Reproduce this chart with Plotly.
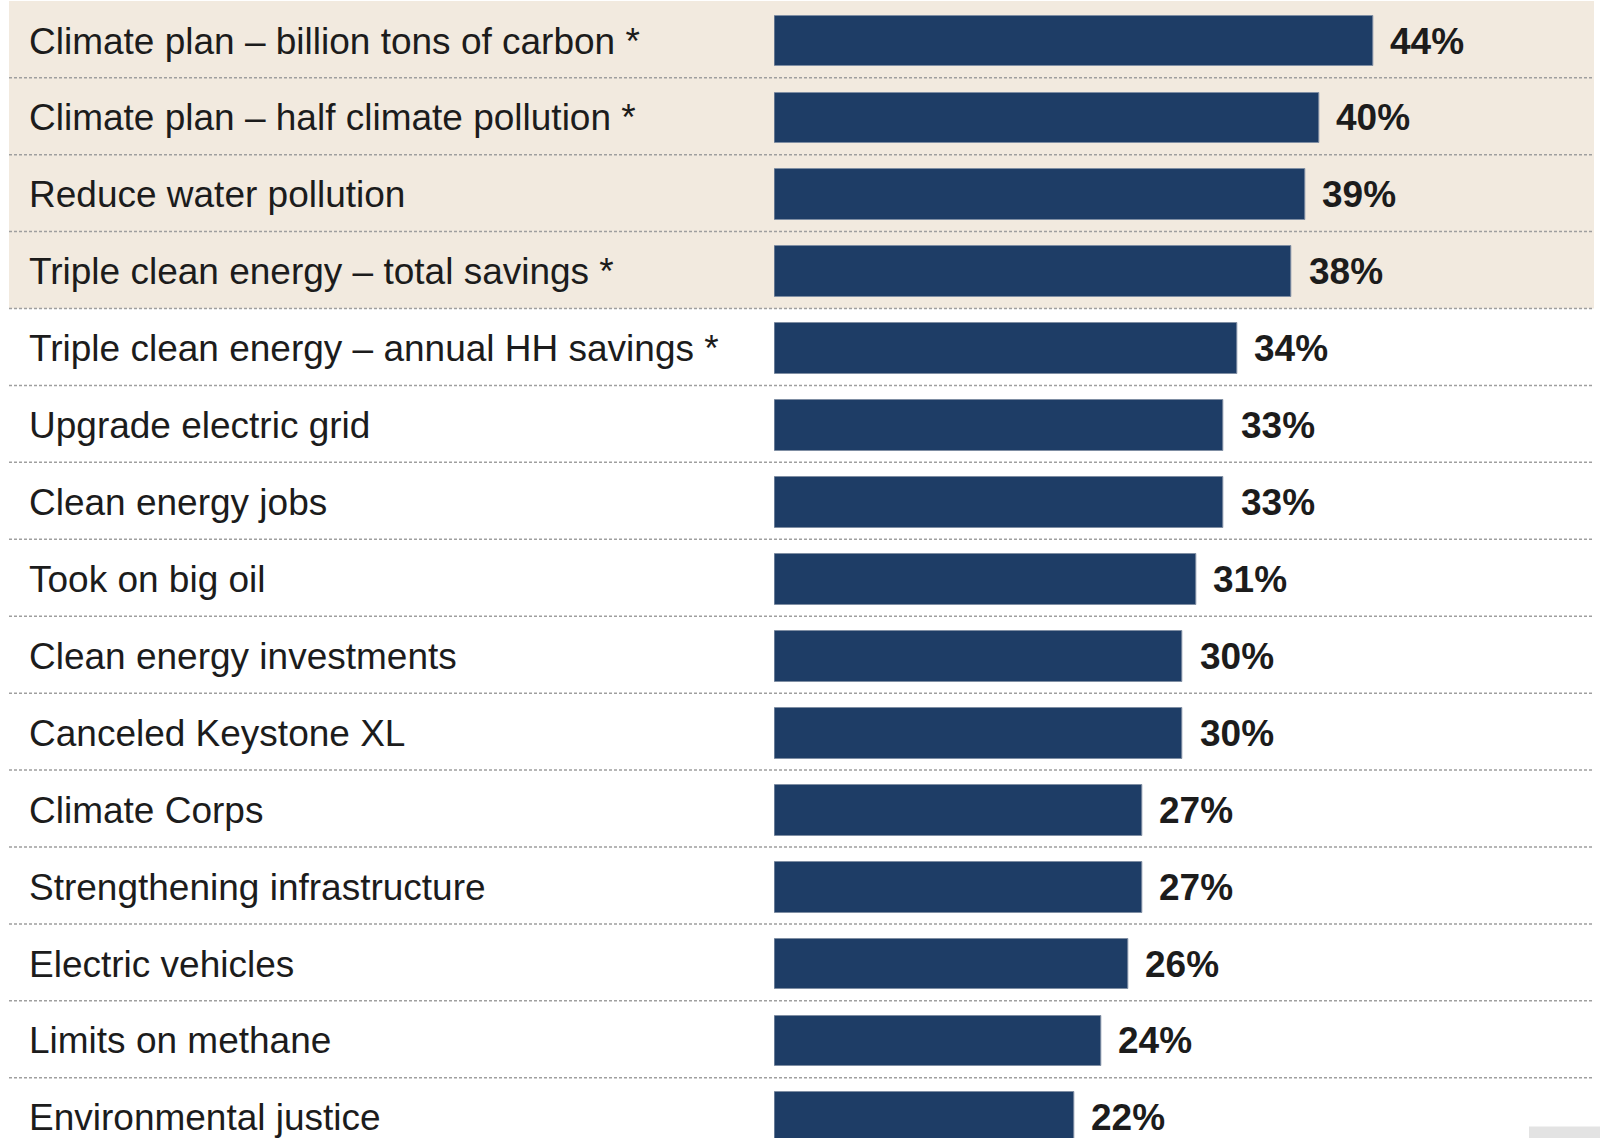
import plotly.graph_objects as go

categories = [
    "Climate plan – billion tons of carbon *",
    "Climate plan – half climate pollution *",
    "Reduce water pollution",
    "Triple clean energy – total savings *",
    "Triple clean energy – annual HH savings *",
    "Upgrade electric grid",
    "Clean energy jobs",
    "Took on big oil",
    "Clean energy investments",
    "Canceled Keystone XL",
    "Climate Corps",
    "Strengthening infrastructure",
    "Electric vehicles",
    "Limits on methane",
    "Environmental justice",
]
values = [44, 40, 39, 38, 34, 33, 33, 31, 30, 30, 27, 27, 26, 24, 22]
value_labels = [f"{v}%" for v in values]
highlighted = 4  # first rows with beige background

W, H = 1600, 1138
BAR_COLOR = "#1e3d66"
BEIGE = "#f2eadf"
TEXT = "#1c1c1c"
FONT = "Liberation Sans, Arial, Helvetica, sans-serif"

ypos = list(range(len(categories)))

fig = go.Figure()
fig.add_trace(go.Bar(
    x=values, y=ypos, orientation="h",
    width=0.66,
    marker=dict(color=BAR_COLOR, line=dict(color="#7f8ea3", width=1)),
    hoverinfo="skip",
))

shapes = []
# beige highlight
shapes.append(dict(type="rect", xref="paper", yref="y", x0=9/W, x1=1594/W,
                   y0=-0.52, y1=highlighted - 1 + 0.478, fillcolor=BEIGE,
                   line=dict(width=0), layer="below"))
# dashed separators
for i in range(len(categories) - 1):
    shapes.append(dict(type="line", xref="paper", yref="y", x0=9/W, x1=1594/W,
                       y0=i + 0.478, y1=i + 0.478,
                       line=dict(color="#9f9f9f", width=1.5, dash="3px,2px"),
                       layer="above"))
# grey corner block
shapes.append(dict(type="rect", xref="paper", yref="paper", x0=1529/W, x1=1,
                   y0=0, y1=11.5/H, fillcolor="#e3e3e3", line=dict(width=0)))

annotations = []
for i, (c, v, lab) in enumerate(zip(categories, values, value_labels)):
    annotations.append(dict(xref="paper", yref="y", x=27/W, y=i, text=c,
                            xanchor="left", yanchor="middle", showarrow=False,
                            font=dict(family=FONT, size=37, color=TEXT)))
    annotations.append(dict(xref="x", yref="y", x=v, y=i, text=f"<b>{lab}</b>",
                            xanchor="left", yanchor="middle", showarrow=False,
                            xshift=15,
                            font=dict(family=FONT, size=37, color=TEXT)))

px_per_unit = (1373.3 - 774.3) / 44.0
fig.update_layout(
    width=W, height=H,
    margin=dict(l=0, r=0, t=0, b=0),
    paper_bgcolor="white", plot_bgcolor="rgba(0,0,0,0)",
    showlegend=False,
    xaxis=dict(domain=[774.3/W, 1], range=[0, (W - 774.3) / px_per_unit],
               visible=False, fixedrange=True),
    yaxis=dict(range=[-0.533 + H / 76.92, -0.533], visible=False, fixedrange=True),
    shapes=shapes,
    annotations=annotations,
    bargap=0,
)

fig.write_html(
    "out.html",
    config={"displayModeBar": False},
    post_script="document.body.style.margin='0';document.body.style.overflow='hidden';",
)
